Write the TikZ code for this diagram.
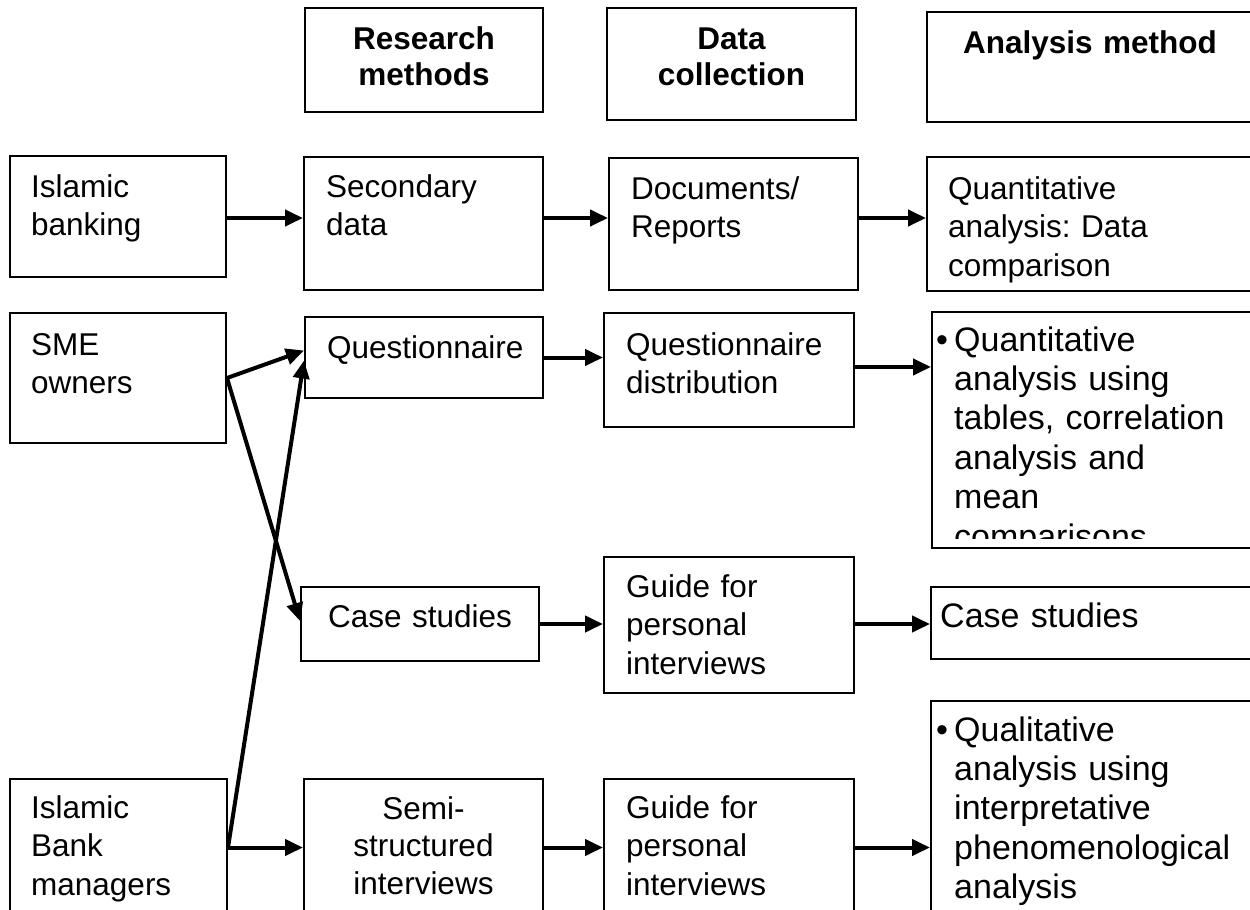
\documentclass[tikz,border=0pt]{standalone}
\usepackage{fontspec}
\setmainfont{Liberation Sans}
\frenchspacing
\usetikzlibrary{arrows.meta,fit}
\begin{document}
\begin{tikzpicture}[x=1pt,y=-1pt,
  box/.style={draw, line width=2pt, inner sep=0pt},
  head/.style={inner sep=0pt, font=\bfseries\fontsize{31.5}{36.6}\selectfont, align=center, text width=320pt, anchor=base},
  txt/.style={inner sep=0pt, font=\fontsize{31.5}{38.5}\selectfont, align=left, text width=400pt, anchor=base west},
  ctxt/.style={inner sep=0pt, font=\fontsize{31.5}{37.5}\selectfont, align=center, text width=300pt, anchor=base},
  btxt/.style={inner sep=0pt, font=\fontsize{34}{39.4}\selectfont, align=left, text width=400pt, anchor=base west},
  bul/.style={inner sep=0pt, font=\fontsize{34}{39.4}\selectfont, anchor=base},
  arr/.style={line width=4pt, -{Triangle[length=18pt,width=16pt]}}]

\clip (0,0) rectangle (1250,910);
\fill[white] (0,0) rectangle (1250,910);

% column headings
\node[box, fit={(305,8) (543,112)}] (rm) {};
\node[head] (rmt) at (424,49) {Research\\methods};
\node[box, fit={(607,8) (856,120)}] (dc) {};
\node[head] (dct) at (731.5,49) {Data\\collection};
\node[box, fit={(927,12) (1262,122)}] (am) {};
\node[head] (amt) at (1090,53) {Analysis method};

% secondary data row
\node[box, fit={(10,156) (226,277)}] (ib) {};
\node[txt] (ibt) at (31,197) {Islamic\\banking};
\node[box, fit={(304,157) (543,290)}] (sd) {};
\node[txt] (sdt) at (326,197) {Secondary\\data};
\node[box, fit={(609,158) (858,290)}] (doc) {};
\node[txt] (doct) at (631,199) {Documents/\\Reports};
\node[box, fit={(927,157) (1262,291)}] (qd) {};
\node[txt] (qdt) at (948,199) {Quantitative\\analysis: Data\\comparison};

% questionnaire row
\node[box, fit={(10,313) (226,443)}] (sme) {};
\node[txt] (smet) at (31,355) {SME\\owners};
\node[box, fit={(305,317) (543,398)}] (q) {};
\node[txt] (qt) at (327,358) {Questionnaire};
\node[box, fit={(604,313) (854,427)}] (qdist) {};
\node[txt] (qdistt) at (626,355) {Questionnaire\\distribution};
\node[box, fit={(932,312) (1262,548)}] (qb) {};
\begin{scope}
  \clip (932,312) rectangle (1262,538);
  \node[bul] (qbb) at (942,351) {\textbullet};
  \node[btxt] (qbt) at (954,351) {Quantitative\\analysis using\\tables, correlation\\analysis and\\mean\\comparisons};
\end{scope}

% case study row
\node[box, fit={(301,587) (539,661)}] (cs) {};
\node[ctxt] (cst) at (420,627) {Case studies};
\node[box, fit={(604,557) (854,693)}] (g1) {};
\node[txt] (g1t) at (626,597) {Guide for\\personal\\interviews};
\node[box, fit={(931,587) (1262,659)}] (csa) {};
\node[btxt] (csat) at (940,627) {Case studies};

% interview row
\node[box, fit={(10,779) (227,916)}] (ibm) {};
\node[txt] (ibmt) at (31,818) {Islamic\\Bank\\managers};
\node[box, fit={(304,779) (543,916)}] (semi) {};
\node[ctxt] (semit) at (423.5,819) {Semi-\\structured\\interviews};
\node[box, fit={(604,779) (854,916)}] (g2) {};
\node[txt] (g2t) at (626,818) {Guide for\\personal\\interviews};
\node[box, fit={(931,701) (1262,993)}] (ql) {};
\node[bul] (qlb) at (942,741) {\textbullet};
\node[btxt] (qlt) at (954,741) {Qualitative\\analysis using\\interpretative\\phenomenological\\analysis};

% connectors
\draw[arr] ([yshift=-1.5pt]ib.east) -- ([yshift=-1.5pt]ib.east -| sd.west);
\draw[arr] ([yshift=5.5pt]sd.east) -- ([yshift=5.5pt]sd.east -| doc.west);
\draw[arr] ([yshift=6pt]doc.east) -- ([yshift=6pt]doc.east -| qd.west);

\draw[arr] (sme.east) -- ([yshift=7pt]q.west);
\draw[arr] (sme.east) -- ([yshift=3pt]cs.west);
\draw[arr] (ibm.east) -- ([yshift=-3pt]q.west);

\draw[arr] (q.east) -- (q.east -| qdist.west);
\draw[arr] ([yshift=3pt]qdist.east) -- ([yshift=3pt]qdist.east -| qb.west);

\draw[arr] (cs.east) -- (cs.east -| g1.west);
\draw[arr] (cs.east -| g1.east) -- (cs.east -| csa.west);

\draw[arr] (ibm.east) -- (ibm.east -| semi.west);
\draw[arr] (semi.east) -- (semi.east -| g2.west);
\draw[arr] (g2.east) -- (g2.east -| ql.west);
\end{tikzpicture}
\end{document}
